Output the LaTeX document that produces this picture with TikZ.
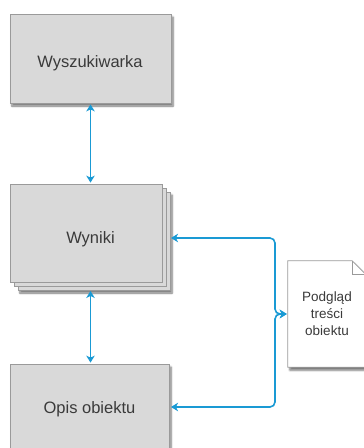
\documentclass[tikz,border=0pt]{standalone}
\usepackage{fontspec}
\setmainfont{Liberation Sans}
\usetikzlibrary{arrows.meta,shadows.blur}
\definecolor{boxfill}{HTML}{D9D9D9}
\definecolor{boxline}{HTML}{9A9A9A}
\definecolor{conn}{HTML}{1A9AD4}
\definecolor{txt}{HTML}{3A3A3A}
\tikzset{
  x=1pt, y=-1pt,
  shad/.style={blur shadow={shadow xshift=2pt, shadow yshift=-3pt, shadow blur steps=6, shadow opacity=55, shadow blur radius=2pt}},
  boxstyle/.style={draw=boxline, fill=boxfill, line width=0.8pt, inner sep=0pt, text=txt, font=\fontsize{16.5}{19}\selectfont},
  lbl/.style={text=txt, font=\fontsize{16.5}{19}\selectfont, text height=12pt, text depth=0pt, inner sep=0pt},
  layer/.style={draw=boxline, fill=boxfill, line width=0.8pt},
  connector/.style={draw=conn, line width=1.6pt, rounded corners=5pt, {Stealth[length=7pt,width=8.5pt,inset=2pt]}-{Stealth[length=7pt,width=8.5pt,inset=2pt]}},
}
\begin{document}
\begin{tikzpicture}
\useasboundingbox (0,0) rectangle (364,448);
\begin{scope}
\clip (0,0) rectangle (364,448);
% Wyszukiwarka
\node[boxstyle, shad, minimum width=161pt, minimum height=89pt] (w) at (90.5,58.5) {};
\node[lbl] (wl) at (90,61.5) {Wyszukiwarka};
% Wyniki stack
\path[layer, shad] (18,192) rectangle (170,290);
\path[layer] (14,188) rectangle (166,286);
\node[boxstyle, minimum width=152pt, minimum height=98pt] (r) at (86,233) {};
\node[lbl] (rl) at (90.5,237) {Wyniki};
% Opis obiektu
\node[boxstyle, shad, minimum width=159pt, minimum height=87pt] (o) at (89.5,407.5) {};
\node[lbl] (ol) at (89.5,407.5) {Opis obiektu};
% Document
\node[minimum width=78pt, minimum height=106pt, inner sep=0pt] (d) at (327,314) {};
\path[draw=boxline, fill=white, line width=0.8pt, shad]
  (d.north west) -- ([xshift=-14pt]d.north east) -- ([yshift=-14pt]d.north east) -- (d.south east) -- (d.south west) -- cycle;
\draw[boxline, line width=0.8pt] ([xshift=-14pt]d.north east) -- ([xshift=-14pt,yshift=-14pt]d.north east) -- ([yshift=-14pt]d.north east);
\node[align=center, text=txt, font=\fontsize{13.5}{17}\selectfont] (dl) at (d.center) {Podgląd\\treści\\obiektu};
% connectors
\coordinate (j) at (275,314);
\coordinate (rt) at (171,238);
\coordinate (ot) at (171,407);
\draw[connector] ([yshift=-1pt]w.south) -- ([yshift=1pt]w.south |- r.north);
\draw[connector] (90.5,291) -- ([yshift=1pt]rl |- o.north);
\draw[connector] ([xshift=-1pt]d.west) -- (j) |- (rt);
\draw[connector] ([xshift=-1pt]d.west) -- (j) |- (ot);
\end{scope}
\end{tikzpicture}
\end{document}
